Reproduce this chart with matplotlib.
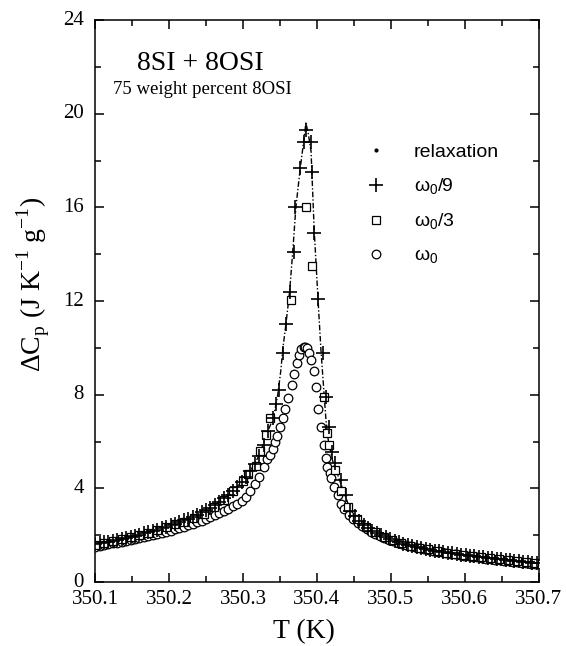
import numpy as np
import matplotlib
matplotlib.use('Agg')
import matplotlib.pyplot as plt
from matplotlib.lines import Line2D
from matplotlib.ticker import MultipleLocator

plt.rcParams['font.family'] = ['Liberation Serif', 'DejaVu Serif']
plt.rcParams['mathtext.fontset'] = 'custom'
plt.rcParams['mathtext.rm'] = 'Liberation Serif'
plt.rcParams['mathtext.sf'] = 'Liberation Sans'

# relaxation curve
t_relax = [350.100, 350.120, 350.140, 350.160, 350.180, 350.200, 350.220, 350.240,
           350.260, 350.280, 350.290, 350.300, 350.310, 350.320, 350.330, 350.335,
           350.341, 350.347, 350.351, 350.354, 350.358, 350.363, 350.367, 350.3715,
           350.3775, 350.382, 350.385, 350.388, 350.392, 350.3963, 350.4014, 350.4054,
           350.4099, 350.412, 350.4155, 350.421, 350.430, 350.446, 350.459, 350.482,
           350.500, 350.530, 350.560, 350.600, 350.650, 350.700]
cp_relax = [1.62, 1.74, 1.88, 2.03, 2.20, 2.40, 2.63, 2.91,
            3.26, 3.72, 4.00, 4.32, 4.75, 5.30, 6.10, 6.55,
            7.0, 8.0, 9.0, 10.0, 11.0, 12.4, 14.0, 16.0,
            17.7, 18.8, 19.6, 19.2, 18.4, 15.0, 12.1, 9.9,
            7.9, 7.0, 6.0, 5.2, 4.4, 3.0, 2.5, 2.0,
            1.8, 1.52, 1.32, 1.15, 0.95, 0.80]

# omega_0 / 9
t_w9 = [350.100, 350.106, 350.112, 350.118, 350.124, 350.130, 350.136, 350.142, 350.148, 350.154,
        350.160, 350.166, 350.172, 350.178, 350.184, 350.190, 350.196, 350.202, 350.208, 350.214,
        350.220, 350.226, 350.232, 350.238, 350.244, 350.250, 350.256, 350.262, 350.268, 350.274,
        350.280, 350.286, 350.292, 350.298, 350.304, 350.310, 350.316, 350.322, 350.328, 350.334,
        350.340, 350.3445, 350.349, 350.3536, 350.358, 350.3635, 350.3685, 350.3703, 350.3774, 350.3825,
        350.3855, 350.392, 350.393, 350.3963, 350.4014, 350.4081, 350.412, 350.4165, 350.421, 350.4245,
        350.432, 350.439, 350.445, 350.451, 350.457, 350.463, 350.469, 350.475, 350.481, 350.487,
        350.493, 350.499, 350.505, 350.511, 350.517, 350.523, 350.529, 350.535, 350.541, 350.547,
        350.553, 350.559, 350.565, 350.571, 350.577, 350.583, 350.589, 350.595, 350.601, 350.607,
        350.613, 350.619, 350.625, 350.631, 350.637, 350.643, 350.649, 350.655, 350.661, 350.667,
        350.673, 350.679, 350.685, 350.691, 350.697]
cp_w9 = [1.62, 1.65, 1.69, 1.72, 1.76, 1.80, 1.84, 1.89, 1.93, 1.98,
         2.03, 2.08, 2.13, 2.18, 2.24, 2.30, 2.36, 2.42, 2.49, 2.56,
         2.63, 2.71, 2.79, 2.88, 2.98, 3.08, 3.18, 3.30, 3.43, 3.57,
         3.72, 3.88, 4.06, 4.26, 4.48, 4.75, 5.05, 5.40, 5.85, 6.45,
         7.00, 7.6, 8.2, 9.8, 11.0, 12.4, 14.1, 16.0, 17.7, 18.8,
         19.3, 18.8, 17.5, 14.9, 12.1, 9.8, 7.9, 6.6, 5.57, 5.1,
         4.35, 3.7, 3.05, 2.80, 2.60, 2.45, 2.32, 2.20, 2.09, 2.00,
         1.91, 1.83, 1.76, 1.70, 1.64, 1.58, 1.53, 1.49, 1.45, 1.41,
         1.37, 1.34, 1.31, 1.28, 1.25, 1.22, 1.19, 1.17, 1.15, 1.12,
         1.10, 1.07, 1.05, 1.03, 1.01, 0.99, 0.97, 0.95, 0.93, 0.91,
         0.89, 0.87, 0.85, 0.83, 0.81]

# omega_0 / 3
t_w3 = [350.100, 350.112, 350.124, 350.136, 350.148, 350.160, 350.172, 350.184, 350.196, 350.208,
        350.220, 350.234, 350.247, 350.261, 350.274, 350.287, 350.300, 350.307, 350.317, 350.323,
        350.331, 350.337, 350.365, 350.385, 350.393, 350.410, 350.413, 350.416, 350.424, 350.432,
        350.442, 350.454, 350.466, 350.478, 350.490, 350.502, 350.514, 350.526, 350.538, 350.550,
        350.562, 350.574, 350.586, 350.598, 350.610, 350.622, 350.634, 350.646, 350.658, 350.670,
        350.682, 350.694]
cp_w3 = [1.60, 1.67, 1.75, 1.83, 1.91, 2.01, 2.11, 2.22, 2.34, 2.46,
         2.58, 2.72, 2.92, 3.2, 3.5, 3.9, 4.3, 4.6, 4.95, 5.6,
         6.3, 7.0, 12.05, 16.0, 13.5, 7.9, 6.35, 5.85, 4.8, 3.9,
         3.2, 2.7, 2.35, 2.12, 1.93, 1.78, 1.66, 1.56, 1.47, 1.39,
         1.32, 1.26, 1.20, 1.15, 1.10, 1.05, 1.01, 0.97, 0.93, 0.89,
         0.86, 0.82]

# omega_0
t_w0 = [350.100, 350.106, 350.112, 350.118, 350.124, 350.130, 350.136, 350.142, 350.148, 350.154,
        350.160, 350.166, 350.172, 350.178, 350.184, 350.190, 350.196, 350.202, 350.208, 350.214,
        350.220, 350.226, 350.232, 350.238, 350.244, 350.250, 350.256, 350.262, 350.268, 350.274,
        350.280, 350.286, 350.292, 350.298, 350.304, 350.310, 350.316, 350.322, 350.328, 350.333,
        350.336, 350.340, 350.343, 350.346, 350.350, 350.354, 350.357, 350.361, 350.366, 350.369,
        350.373, 350.376, 350.379, 350.382, 350.384, 350.386, 350.389, 350.392, 350.396, 350.399,
        350.402, 350.405, 350.409, 350.412, 350.414, 350.417, 350.419, 350.423, 350.428, 350.433,
        350.437, 350.443, 350.449, 350.455, 350.461, 350.467, 350.473, 350.479, 350.485, 350.491,
        350.497, 350.503, 350.509, 350.515, 350.521, 350.527, 350.533, 350.539, 350.545, 350.551,
        350.557, 350.563, 350.569, 350.575, 350.581, 350.587, 350.593, 350.599, 350.605, 350.611,
        350.617, 350.623, 350.629, 350.635, 350.641, 350.647, 350.653, 350.659, 350.665, 350.671,
        350.677, 350.683, 350.689, 350.695, 350.700]
cp_w0 = [1.50, 1.54, 1.57, 1.61, 1.65, 1.68, 1.72, 1.76, 1.80, 1.84,
         1.88, 1.92, 1.96, 2.01, 2.05, 2.10, 2.15, 2.20, 2.25, 2.30,
         2.36, 2.42, 2.48, 2.55, 2.62, 2.69, 2.77, 2.85, 2.94, 3.03,
         3.12, 3.23, 3.34, 3.46, 3.65, 3.90, 4.18, 4.50, 4.92, 5.25,
         5.43, 5.70, 6.00, 6.25, 6.60, 7.00, 7.40, 7.85, 8.40, 8.90,
         9.35, 9.70, 9.95, 10.05, 10.05, 10.0, 9.8, 9.5, 9.0, 8.35,
         7.4, 6.6, 5.85, 5.3, 4.9, 4.65, 4.45, 4.05, 3.7, 3.35,
         3.1, 2.88, 2.68, 2.52, 2.38, 2.26, 2.15, 2.05, 1.96, 1.88,
         1.80, 1.74, 1.68, 1.62, 1.57, 1.52, 1.48, 1.44, 1.40, 1.36,
         1.33, 1.30, 1.27, 1.24, 1.21, 1.18, 1.15, 1.12, 1.10, 1.07,
         1.05, 1.02, 1.00, 0.97, 0.95, 0.93, 0.91, 0.89, 0.87, 0.85,
         0.83, 0.81, 0.79, 0.77, 0.75]

fig = plt.figure(figsize=(5.66, 6.46), dpi=100)
ax = fig.add_axes([0.168, 0.099, 0.784, 0.870])

ax.plot(t_relax, cp_relax, color='black', lw=1.0, ls=(0, (4, 1.5, 1, 1.5)), zorder=2)
ax.plot(t_w0, cp_w0, ls='none', marker='o', ms=6.2, mfc='white', mec='black', mew=0.9, zorder=3)
ax.plot(t_w3, cp_w3, ls='none', marker='s', ms=5.8, mfc='white', mec='black', mew=0.9, zorder=4)
ax.plot(t_w9, cp_w9, ls='none', marker='+', ms=10, mec='black', mew=1.2, zorder=5)

ax.set_xlim(350.1, 350.7)
ax.set_ylim(0, 24)
ax.xaxis.set_major_locator(MultipleLocator(0.1))
ax.xaxis.set_minor_locator(MultipleLocator(0.05))
ax.yaxis.set_major_locator(MultipleLocator(4))
ax.yaxis.set_minor_locator(MultipleLocator(2))
ax.xaxis.set_major_formatter(plt.FuncFormatter(lambda v, p: f'{v:.1f}'))
ax.tick_params(which='both', direction='in', top=True, right=True, width=1.1)
ax.tick_params(which='major', length=6.5, labelsize=15)
ax.tick_params(which='minor', length=4.5)
ax.tick_params(axis='y', pad=8)
ax.tick_params(axis='x', pad=6)
for lab in ax.get_yticklabels():
    lab.set_va('center')
for s in ax.spines.values():
    s.set_linewidth(1.1)

ax.set_xlabel('T (K)', fontsize=20)
ax.xaxis.set_label_coords(0.47, -0.066, transform=ax.transAxes)
ax.xaxis.label.set_va('top')
ax.set_ylabel(r'ΔC$_\mathrm{p}$ (J K$^\mathrm{-1}$ g$^\mathrm{-1}$)', fontsize=20)
ax.yaxis.set_label_coords(-0.097, 0.53)

ax.text(0.095, 0.945, '8SI + 8OSI', transform=ax.transAxes, fontsize=20, va='top', ha='left')
ax.text(0.04, 0.891, '75 weight percent 8OSI', transform=ax.transAxes, fontsize=13.5, va='top', ha='left')

handles = [
    Line2D([], [], ls='none', marker='.', ms=4, color='black'),
    Line2D([], [], ls='none', marker='+', ms=10, mec='black', mew=1.2),
    Line2D([], [], ls='none', marker='s', ms=5.8, mfc='white', mec='black', mew=0.9),
    Line2D([], [], ls='none', marker='o', ms=6.2, mfc='white', mec='black', mew=0.9),
]
labels = ['relaxation', r'ω$_\mathsf{0}$/9', r'ω$_\mathsf{0}$/3', r'ω$_\mathsf{0}$']
ax.legend(handles, labels, loc='upper left', bbox_to_anchor=(0.60, 0.78),
          frameon=False, borderpad=0, borderaxespad=0, handlelength=1.5,
          handletextpad=1.2, labelspacing=0.78,
          prop={'family': 'Liberation Sans', 'size': 14})

fig.savefig('out.png', dpi=100)
